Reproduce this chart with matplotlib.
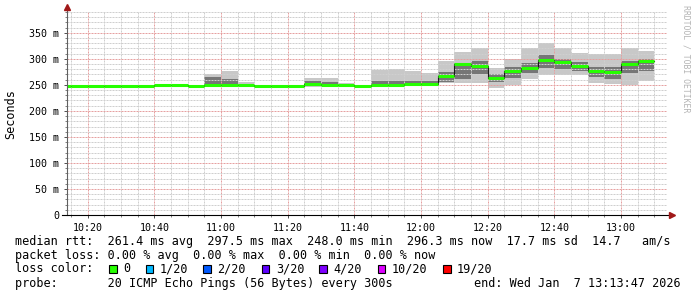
import matplotlib
matplotlib.use("Agg")
import matplotlib.pyplot as plt
from matplotlib.patches import Rectangle
from matplotlib.ticker import MultipleLocator, FuncFormatter
import numpy as np

# --- data (5 min steps, values in ms) ---
bin_start = ["10:10", "10:15", "10:20", "10:25", "10:30", "10:35",
             "10:40", "10:45", "10:50", "10:55", "11:00", "11:05",
             "11:10", "11:15", "11:20", "11:25", "11:30", "11:35",
             "11:40", "11:45", "11:50", "11:55", "12:00", "12:05",
             "12:10", "12:15", "12:20", "12:25", "12:30", "12:35",
             "12:40", "12:45", "12:50", "12:55", "13:00", "13:05"]
bin_end = "13:10"

median = [248, 248, 248, 248, 248, 248,
          249, 249, 248, 249.5, 250, 249,
          248, 248, 248, 251, 250, 249,
          248, 249.5, 249.5, 251.5, 252.5, 266.5,
          289.5, 286.5, 263.5, 277.5, 282.5, 297.5,
          293, 287, 277.5, 274.5, 290.5, 296.3]
ping_lo = [248, 248, 248, 248, 248, 248,
           248, 248, 248, 246, 247, 247,
           248, 248, 248, 246, 247, 247,
           248, 246.8, 246.8, 248, 248, 253,
           254.5, 253, 243.6, 250, 261, 269,
           269, 269, 254.5, 252, 250, 258]
ping_q1 = [248, 248, 248, 248, 248, 248,
           248, 248, 248, 249, 249, 248,
           248, 248, 248, 249, 249, 248,
           248, 248, 248, 249, 250, 255,
           262, 270, 256, 264, 272, 283,
           280, 276, 265, 262, 272, 276]
ping_q3 = [248, 248, 248, 248, 248, 248,
           249.5, 249.5, 248, 265, 262, 252,
           248, 248, 248, 258, 256, 251,
           248, 258, 258, 257, 258, 275,
           292, 296, 270, 284, 292, 308,
           300, 294, 285, 284, 295, 300]
ping_hi = [248, 248, 248, 248, 248, 248,
           250, 250, 248, 271, 276, 256,
           248, 248, 248, 263.5, 263.5, 253,
           248, 278.8, 280.8, 277.5, 272.4, 296.8,
           314, 320.5, 282, 300, 320.5, 330,
           320.5, 311, 309.6, 309.6, 320.5, 315]

view_start = "10:13:47"
view_end = "13:13:47"

row_rtt = "median rtt:  261.4 ms avg  297.5 ms max  248.0 ms min  296.3 ms now  17.7 ms sd  14.7   am/s"
row_loss = "packet loss: 0.00 % avg  0.00 % max  0.00 % min  0.00 % now"
row_probe = "probe:       20 ICMP Echo Pings (56 Bytes) every 300s"
row_end = "end: Wed Jan  7 13:13:47 2026"
loss_labels = ["0", "1/20", "2/20", "3/20", "4/20", "10/20", "19/20"]
loss_colors = ["#26ff00", "#00b8ff", "#0059ff", "#5e00ff", "#7e00ff", "#dd00ff", "#ff0000"]

W, H = 697, 297
MONO = "DejaVu Sans Mono"


def to_min(s):
    parts = [int(p) for p in s.split(":")]
    m = parts[0] * 60 + parts[1]
    if len(parts) > 2:
        m += parts[2] / 60.0
    return m


def px(x, y):
    # pixel coords (top-left origin) -> figure fraction
    return x / W, 1 - y / H


x_edges = np.array([to_min(t) for t in bin_start] + [to_min(bin_end)])


def ext(a):
    return np.append(a, a[-1])


fig = plt.figure(figsize=(W / 100, H / 100), dpi=100)
fig.patch.set_facecolor("white")
ax = fig.add_axes([67 / W, 82 / H, 600 / W, 203 / H])

# smoke
ax.fill_between(x_edges, ext(ping_lo), ext(ping_hi), step="post",
                color="#c8c8c8", lw=0, zorder=1)
ax.fill_between(x_edges, ext(ping_q1), ext(ping_q3), step="post",
                color="#767676", lw=0, zorder=2)

# median line
ax.step(x_edges, ext(median), where="post", color="#1a1a1a", lw=0.8, zorder=3)
ax.hlines(median, x_edges[:-1], x_edges[1:], color="#26ff00", lw=2.2, zorder=4)

ax.set_xlim(to_min(view_start), to_min(view_end))
ax.set_ylim(0, 390)

ax.xaxis.set_major_locator(MultipleLocator(20))
ax.xaxis.set_minor_locator(MultipleLocator(5))
ax.yaxis.set_major_locator(MultipleLocator(50))
ax.yaxis.set_minor_locator(MultipleLocator(10))
ax.xaxis.set_major_formatter(FuncFormatter(lambda v, p: f"{int(round(v)) // 60}:{int(round(v)) % 60:02d}"))
ax.yaxis.set_major_formatter(FuncFormatter(lambda v, p: f"{int(v)} m" if v else "0"))

ax.grid(which="minor", color="#cfcfcf", lw=0.72, linestyle=(0, (2, 1)))
ax.grid(which="major", color="#e6a0a0", lw=0.72, linestyle=(0, (2, 1)))
ax.set_axisbelow(False)

for s in ax.spines.values():
    s.set_visible(False)

ax.tick_params(which="major", length=2.5, width=0.7, color="#505050",
               labelsize=7.2, pad=3)
ax.tick_params(which="minor", length=1.5, width=0.7, color="#808080")
for lab in ax.get_xticklabels() + ax.get_yticklabels():
    lab.set_fontfamily(MONO)
    lab.set_color("#000000")

# axis lines with arrows
ax.plot([0, 0], [0, 1.022], transform=ax.transAxes, color="#606060",
        lw=0.8, clip_on=False, zorder=6)
ax.plot([-0.008, 1.005], [0, 0], transform=ax.transAxes, color="#000000",
        lw=0.8, clip_on=False, zorder=6)
ax.plot([0], [1.025], transform=ax.transAxes, marker="^", ms=4,
        color="#a01818", clip_on=False, zorder=7)
ax.plot([1.008], [0], transform=ax.transAxes, marker=">", ms=4,
        color="#a01818", clip_on=False, zorder=7)

# labels
fig.text(*px(11, 114), "Seconds", rotation=90, ha="center", va="center",
         family=MONO, size=8.5)
fig.text(*px(686, 5), "RRDTOOL / TOBI OETIKER", rotation=270, ha="center",
         va="top", family=MONO, size=5.9, color="#b4b4b4")

# legend rows
fig.text(*px(15, 241), row_rtt, ha="left", va="center", family=MONO, size=8.5)
fig.text(*px(15, 255), row_loss, ha="left", va="center", family=MONO, size=8.5)
fig.text(*px(15, 269), "loss color:", ha="left", va="center", family=MONO, size=8.5)
fig.text(*px(15, 283.5), row_probe, ha="left", va="center", family=MONO, size=8.5)
fig.text(*px(681, 283.5), row_end, ha="right", va="center", family=MONO, size=8.5)

box_x = [109, 145.7, 203, 261.7, 319.3, 377.7, 443]
label_x = [123.5, 159.5, 217.5, 276, 333.5, 392, 456.5]
for bx, lx, lab, col in zip(box_x, label_x, loss_labels, loss_colors):
    x0, y0 = px(bx, 273)
    fig.patches.append(Rectangle((x0, y0), 7.7 / W, 7.7 / H, facecolor=col,
                                 edgecolor="black", lw=0.8,
                                 transform=fig.transFigure, figure=fig))
    fig.text(*px(lx, 269), lab, ha="left", va="center", family=MONO, size=8.5)

fig.savefig("out.png", dpi=100, facecolor="white")
